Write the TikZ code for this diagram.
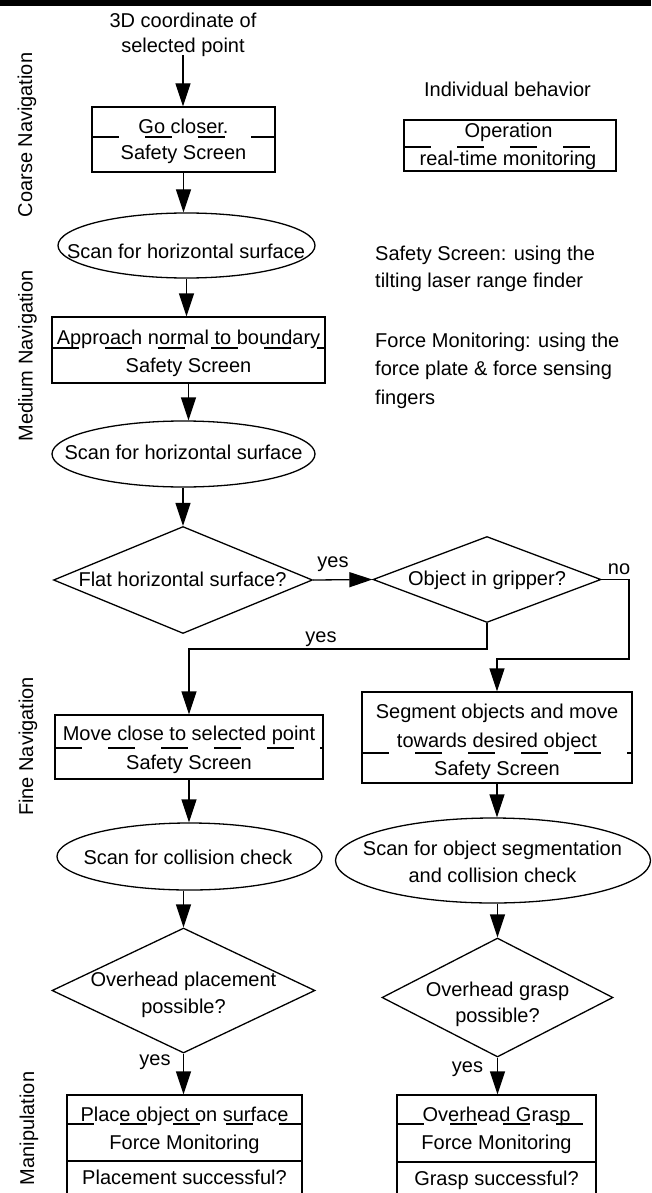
\documentclass[tikz,border=0pt]{standalone}
\usepackage{fontspec}
\setmainfont{Liberation Sans}
\usetikzlibrary{arrows.meta,shapes.geometric}
\begin{document}
\begin{tikzpicture}[x=1pt,y=-1pt,
  every node/.style={font=\fontsize{20pt}{24pt}\selectfont},
  txt/.style={inner sep=0pt, text height=14pt, text depth=0pt, anchor=center},
  lft/.style={txt, anchor=west},
  side/.style={txt, rotate=90},
  shp/.style={draw, line width=1.3pt, inner sep=0pt},
  boxn/.style={shp, rectangle},
  ell/.style={shp, ellipse},
  dia/.style={shp, diamond},
  div/.style={line width=1.3pt, dash pattern=on 27pt off 26pt},
  sep/.style={line width=1.3pt},
  arr/.style={line width=1.3pt, -{Triangle[length=23pt,width=15pt]}}
]
\useasboundingbox (0,0) rectangle (651,1193);
\clip (0,0) rectangle (651,1193);
\fill[black] (0,0) rectangle (651,6);

% side labels
\node[side] (lc) at (25,135) {Coarse Navigation};
\node[side] (lm) at (25.5,356) {Medium Navigation};
\node[side] (lf) at (26,746.5) {Fine Navigation};
\node[side] (lp) at (27,1128.5) {Manipulation};

% legend
\node[txt] (ib) at (507.5,90) {Individual behavior};
\node[boxn, minimum width=212pt, minimum height=51pt] (leg) at (510,145.5) {};
\draw[div] (404,147) -- (616,147);
\node[txt] (legop) at (508.5,131) {Operation};
\node[txt] (legrt) at (508,159) {real-time monitoring};
\node[lft] (n1) at (375,253) {Safety Screen: using the};
\node[lft] (n2) at (375,280) {tilting laser range finder};
\node[lft] (n3) at (375,340) {Force Monitoring: using the};
\node[lft] (n4) at (375,368) {force plate \& force sensing};
\node[lft] (n5) at (375,397) {fingers};

% start
\node[txt] (s1) at (183,21) {3D coordinate of};
\node[txt] (s2) at (183,46) {selected point};
\coordinate (start) at (183,55);

% box 1
\node[boxn, minimum width=183pt, minimum height=65pt] (b1) at (183.5,139.5) {};
\draw[div] (92,137) -- (275,137);
\node[txt] (b1a) at (183.5,127) {Go closer.};
\node[txt] (b1b) at (183.5,153) {Safety Screen};

% ellipse 1
\node[ell, minimum width=257pt, minimum height=65pt] (e1) at (186.5,245.5) {};
\node[txt] (e1t) at (186,251) {Scan for horizontal surface};

% box 2
\node[boxn, minimum width=273pt, minimum height=66pt] (b2) at (188.5,350) {};
\draw[div] (52,348) -- (325,348);
\node[txt] (b2a) at (188.5,337) {Approach normal to boundary};
\node[txt] (b2b) at (188.5,365) {Safety Screen};

% ellipse 2
\node[ell, minimum width=263pt, minimum height=66pt] (e2) at (183.5,454) {};
\node[txt] (e2t) at (183.5,452) {Scan for horizontal surface};

% diamond 1 and 2
\node[dia, minimum width=259pt, minimum height=107pt] (d1) at (183,580) {};
\node[txt] (d1t) at (182.5,579) {Flat horizontal surface?};
\node[dia, minimum width=228pt, minimum height=86pt] (d2) at (487,579.5) {};
\node[txt] (d2t) at (487,578) {Object in gripper?};
\node[txt] (y1) at (333,560) {yes};
\node[txt] (no) at (619,567) {no};
\node[txt] (y2) at (321,635) {yes};
\coordinate (noturn) at (629,659);
\coordinate (yesturn) at (487,649);

% box 3 (left)
\node[boxn, minimum width=268pt, minimum height=64pt] (b3) at (189,747) {};
\draw[div] (55,748) -- (323,748);
\node[txt] (b3a) at (189,733) {Move close to selected point};
\node[txt] (b3b) at (189,762) {Safety Screen};

% box 4 (right)
\node[boxn, minimum width=270pt, minimum height=91pt] (b4) at (497,737.5) {};
\draw[div] (362,753) -- (632,753);
\node[txt] (b4a) at (497,711.5) {Segment objects and move};
\node[txt] (b4b) at (497,740) {towards desired object};
\node[txt] (b4c) at (497,768) {Safety Screen};

% ellipse 3 (left)
\node[ell, minimum width=265pt, minimum height=67pt] (e3) at (189.5,856.5) {};
\node[txt] (e3t) at (188,857) {Scan for collision check};

% ellipse 4 (right)
\node[ell, minimum width=315pt, minimum height=85pt] (e4) at (493,860.5) {};
\node[txt] (e4a) at (492.5,848) {Scan for object segmentation};
\node[txt] (e4b) at (492.5,875) {and collision check};

% diamond 3 (left)
\node[dia, minimum width=263pt, minimum height=125pt] (d3) at (183.5,990.5) {};
\node[txt] (d3a) at (183.5,979) {Overhead placement};
\node[txt] (d3b) at (183.5,1006) {possible?};

% diamond 4 (right)
\node[dia, minimum width=231pt, minimum height=119pt] (d4) at (497.5,997.5) {};
\node[txt] (d4a) at (497.5,989) {Overhead grasp};
\node[txt] (d4b) at (497.5,1015) {possible?};

\node[txt] (y3) at (155,1058) {yes};
\node[txt] (y4) at (467.5,1065) {yes};

% box 5 (left bottom)
\node[boxn, minimum width=235pt, minimum height=130pt] (b5) at (184.5,1160) {};
\draw[div] (67,1124) -- (302,1124);
\draw[sep] (67,1161) -- (302,1161);
\node[txt] (b5a) at (184.5,1114) {Place object on surface};
\node[txt] (b5b) at (184.5,1142) {Force Monitoring};
\node[txt] (b5c) at (184.5,1177) {Placement successful?};

% box 6 (right bottom)
\node[boxn, minimum width=199pt, minimum height=130pt] (b6) at (496.5,1160) {};
\draw[div] (397,1124) -- (596,1124);
\draw[sep] (397,1162) -- (596,1162);
\node[txt] (b6a) at (496.5,1114) {Overhead Grasp};
\node[txt] (b6b) at (496.5,1142.5) {Force Monitoring};
\node[txt] (b6c) at (496.5,1178) {Grasp successful?};

% connectors
\draw[arr] (start) -- (start |- b1.north);
\draw[arr] (b1.south) -- (b1.south |- e1.north);
\draw[arr] (e1.south) -- (e1.south |- b2.north);
\draw[arr] (b2.south) -- (b2.south |- e2.north);
\draw[arr] (e2.south -| d1.north) -- (d1.north);
\draw[arr] (d1.east) -- (d2.west);
\draw[arr] (d2.east) -| (noturn) -| (b4.north);
\draw[arr] (d2.south) -- (yesturn) -| (b3.north);
\draw[arr] (b3.south) -- (b3.south |- e3.north);
\draw[arr] (e3.south -| d3.north) -- (d3.north);
\draw[arr] (d3.south) -- (d3.south |- b5.north);
\draw[arr] (b4.south) -- (b4.south |- e4.north);
\draw[arr] (e4.south -| d4.north) -- (d4.north);
\draw[arr] (d4.south) -- (d4.south |- b6.north);
\end{tikzpicture}
\end{document}
